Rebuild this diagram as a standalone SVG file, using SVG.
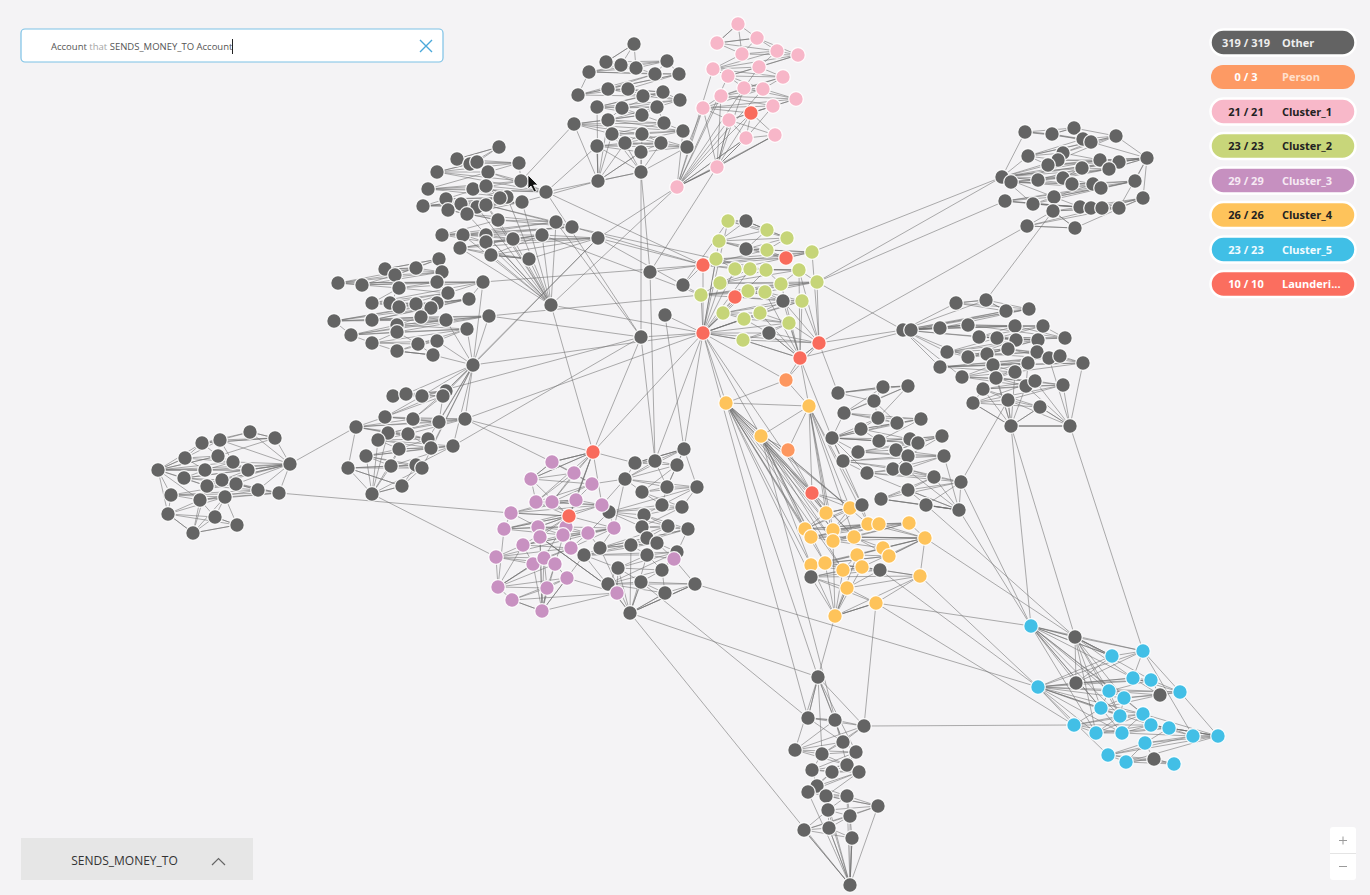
<svg xmlns="http://www.w3.org/2000/svg" width="1370" height="895" viewBox="0 0 1370 895">
<style>
.bg{fill:#f4f3f5}
.e path{fill:none;stroke:#6f6f6f;stroke-width:.72;stroke-opacity:.78}
.nodes circle{r:7.3px;stroke:#fff;stroke-width:1.3;stroke-opacity:.9}
.gy circle,circle.gy{fill:#646464}
.pk circle{fill:#f7b6c8}
.gn circle{fill:#c6d578}
.pu circle{fill:#c891c1}
.ye circle{fill:#fec35a}
.bl circle{fill:#42bfe6}
circle.rd{fill:#f96b5c}
circle.ps{fill:#fd975f}
.nodes circle.gy{fill:#646464}
.nodes circle.rd{fill:#f96b5c}
.nodes circle.ps{fill:#fd975f}
.lg text{font-family:"Open Sans","Liberation Sans",sans-serif;font-size:11px;font-weight:700}
.ui text{font-family:"Open Sans","Liberation Sans",sans-serif}
</style>
<rect class="bg" x="0" y="0" width="1370" height="895"/>
<g id="connectors" class="e">
<path id="edges-a" d="M634,44L606,62 621,65 636,68 667,61 589,72 655,74 679,74 578,95 608,89 628,89 643,96 663,92 680,100 597,107 622,108 657,107 642,115 608,120 664,123 574,124 683,131 612,134 642,134 625,143 661,143 687,147 597,146 641,152 641,172 598,181M634,44L621,65 667,61 655,74 578,95 628,89 663,92 597,107 657,107 608,120 574,124 612,134 625,143 687,147 641,152 598,181 641,172 597,146 661,143 642,134 683,131 664,123 642,115 622,108 680,100 643,96 608,89 679,74 589,72 636,68 606,62 634,44M634,44L636,68 655,74 608,89 663,92 622,108 608,120 683,131 625,143 597,146 598,181 641,152 661,143 612,134 664,123 657,107 680,100 628,89 679,74 667,61 606,62 621,65 589,72 578,95 643,96 597,107 642,115 574,124 642,134 687,147 641,172M598,181L574,124M598,181L597,146M598,181L612,134M598,181L625,143M598,181L608,120M598,181L597,107M641,172L625,143M641,172L642,134M641,172L661,143M641,172L612,134"/>
<path id="edges-1" d="M738,24L717,43 757,38 742,54 777,51 798,55 713,69 759,67 728,76 783,77 744,88 763,89 721,96 796,99 703,108 773,106 751,113 729,120 746,138 775,135 717,167 677,187M738,24L757,38 777,51 713,69 728,76 744,88 721,96 703,108 751,113 746,138 717,167 677,187 775,135 729,120 773,106 796,99 763,89 783,77 759,67 798,55 742,54 717,43 738,24M738,24L742,54 713,69 783,77 721,96 773,106 746,138 677,187 717,167 729,120 703,108 763,89 728,76 798,55 757,38 717,43 777,51 759,67 744,88 796,99 751,113 775,135M677,187L703,108M677,187L721,96M677,187L729,120M677,187L751,113M677,187L746,138M677,187L713,69M677,187L728,76M677,187L744,88M677,187L763,89M717,167L751,113M717,167L746,138M717,167L775,135M717,167L729,120M717,167L703,108M717,167L721,96M717,167L744,88"/>
<path id="edges-2" d="M728,221L746,221 767,230 787,238 719,241 746,249 767,250 786,258 812,252 703,265 716,259 735,269 750,269 766,270 799,270 720,283 781,284 817,282 701,295 748,291 765,292 735,297 783,301 802,301 723,313 760,313 744,319 789,323 703,333 769,333 743,340 819,343 800,358M728,221L767,230 719,241 767,250 812,252 716,259 750,269 799,270 781,284 701,295 765,292 783,301 723,313 744,319 703,333 743,340 800,358 819,343 769,333 789,323 760,313 802,301 735,297 748,291 817,282 720,283 766,270 735,269 703,265 786,258 746,249 787,238 746,221 728,221M728,221L787,238 767,250 703,265 750,269 720,283 701,295 735,297 723,313 789,323 743,340 800,358 769,333 744,319 802,301 765,292 817,282 799,270 735,269 812,252 746,249 767,230 746,221 719,241 786,258 716,259 766,270 781,284 748,291 783,301 760,313 703,333 819,343M703,333L703,265M703,333L716,259M703,333L719,241M703,333L735,269M703,333L720,283M703,333L701,295M703,333L735,297M703,333L723,313M703,333L744,319M703,333L743,340M703,333L748,291M703,333L760,313M703,333L728,221M703,333L750,269M703,333L766,270M800,358L789,323M800,358L802,301M800,358L783,301M800,358L781,284M800,358L769,333M800,358L760,313M800,358L765,292M800,358L799,270M819,343L817,282M819,343L802,301M819,343L799,270M819,343L812,252M819,343L789,323M819,343L783,301"/>
<path id="edges-k" d="M499,147L457,159 470,164 477,162 519,163 437,172 488,172 521,181 546,192 428,189 473,189 486,186 507,197 500,198 446,199 423,206 461,204 477,207 522,202 448,210 467,214 486,205 498,220 556,222 572,227 442,235 463,235 486,235 486,242 513,239 542,235 598,238 460,248 491,255 529,259M499,147L470,164 519,163 488,172 546,192 473,189 507,197 446,199 461,204 522,202 467,214 498,220 572,227 463,235 486,242 542,235 460,248 529,259 491,255 598,238 513,239 486,235 442,235 556,222 486,205 448,210 477,207 423,206 500,198 486,186 428,189 521,181 437,172 477,162 457,159 499,147M499,147L477,162 488,172 428,189 507,197 423,206 522,202 486,205 572,227 486,235 542,235 491,255 529,259 598,238 486,242 442,235 498,220 448,210 461,204 500,198 473,189 521,181 519,163 457,159 470,164 437,172 546,192 486,186 446,199 477,207 467,214 556,222 463,235 513,239 460,248M551,305L498,220M551,305L463,235M551,305L486,235M551,305L486,242M551,305L513,239M551,305L460,248M551,305L491,255M551,305L529,259M551,305L542,235M551,305L467,214M551,305L477,207M551,305L507,197M551,305L486,205M551,305L522,202M551,305L556,222"/>
<path id="edges-l" d="M439,259L385,269 416,268 395,275 442,272 338,283 362,285 437,282 483,282 399,288 448,293 372,303 390,303 399,307 416,304 437,303 469,299 431,308 334,321 372,320 421,317 446,320 489,316 397,325 351,335 397,332 467,329 372,343 418,344 437,341 397,351 433,355M439,259L416,268 442,272 362,285 483,282 448,293 390,303 416,304 469,299 334,321 421,317 489,316 351,335 467,329 418,344 397,351 433,355 437,341 372,343 397,332 397,325 446,320 372,320 431,308 437,303 399,307 372,303 399,288 437,282 338,283 395,275 385,269 439,259M439,259L395,275 362,285 399,288 390,303 437,303 334,321 446,320 351,335 372,343 397,351 433,355 418,344 397,332 489,316 372,320 469,299 399,307 448,293 437,282 442,272 385,269 416,268 338,283 483,282 372,303 416,304 431,308 421,317 397,325 467,329 437,341M338,283L362,285M334,321L351,335M483,282L469,299"/>
<path id="edges-m" d="M393,396L406,394 422,396 446,391 443,396 385,417 413,419 439,422 465,419 356,427 388,433 408,434 428,439 378,440 431,448 399,449 453,446 366,456 391,466 416,465 422,468 348,468 402,486 372,494M393,396L422,396 443,396 413,419 465,419 388,433 428,439 431,448 453,446 391,466 422,468 402,486 372,494 348,468 416,465 366,456 399,449 378,440 408,434 356,427 439,422 385,417 446,391 406,394 393,396M393,396L446,391 413,419 356,427 428,439 399,449 391,466 348,468 402,486 416,465 453,446 378,440 388,433 439,422 443,396 406,394 422,396 385,417 465,419 408,434 431,448 366,456 422,468 372,494M473,365L446,391M473,365L443,396M473,365L422,396M473,365L439,422M473,365L465,419M473,365L428,439M473,365L431,448M473,365L453,446M473,365L422,468M473,365L406,394M473,365L489,316M473,365L467,329M473,365L437,341M473,365L433,355M473,365L446,320M473,365L483,282M372,494L378,440M372,494L388,433M372,494L399,449M372,494L391,466M372,494L366,456M356,427L348,468M356,427L385,417"/>
<path id="edges-n" d="M250,432L275,438 202,443 220,440 218,456 185,458 233,462 158,470 205,470 248,470 290,464 184,478 207,486 222,480 236,484 258,490 279,493 171,495 200,500 225,497 168,514 215,517 237,525 193,533M250,432L202,443 218,456 233,462 205,470 290,464 207,486 236,484 279,493 200,500 168,514 237,525 193,533 215,517 225,497 171,495 258,490 222,480 184,478 248,470 158,470 185,458 220,440 275,438 250,432M250,432L220,440 233,462 248,470 207,486 258,490 200,500 215,517 237,525 225,497 279,493 222,480 290,464 158,470 218,456 275,438 202,443 185,458 205,470 184,478 236,484 171,495 168,514 193,533M158,470L202,443M158,470L185,458M158,470L205,470M158,470L184,478M158,470L207,486M158,470L171,495M158,470L200,500M158,470L218,456M158,470L168,514M290,464L250,432M290,464L275,438M290,464L233,462M290,464L248,470M290,464L236,484M290,464L258,490M290,464L279,493M290,464L220,440M290,464L222,480M193,533L168,514M193,533L200,500M193,533L225,497M193,533L207,486"/>
<path id="edges-s" d="M1025,132L1052,134 1074,128 1083,139 1091,142 1116,136 1028,156 1063,153 1058,160 1048,165 1100,160 1119,162 1147,158 1002,177 1082,168 1109,169 1038,180 1063,178 1011,182 1072,184 1093,184 1101,188 1135,181 1054,197 1005,201 1033,204 1080,207 1091,208 1102,208 1119,208 1143,198 1053,211 1027,226 1075,228M1025,132L1074,128 1091,142 1028,156 1058,160 1100,160 1147,158 1082,168 1038,180 1011,182 1093,184 1135,181 1005,201 1080,207 1102,208 1143,198 1027,226 1075,228 1053,211 1119,208 1091,208 1033,204 1054,197 1101,188 1072,184 1063,178 1109,169 1002,177 1119,162 1048,165 1063,153 1116,136 1083,139 1052,134 1025,132M1025,132L1083,139 1028,156 1048,165 1147,158 1109,169 1011,182 1101,188 1005,201 1091,208 1143,198 1075,228 1053,211 1102,208 1033,204 1135,181 1072,184 1038,180 1002,177 1100,160 1063,153 1091,142 1052,134 1074,128 1116,136 1058,160 1119,162 1082,168 1063,178 1093,184 1054,197 1080,207 1119,208 1027,226M1002,177L1028,156M1002,177L1048,165M1002,177L1038,180M1002,177L1011,182M1002,177L1054,197M1002,177L1033,204M1002,177L1058,160M1002,177L1063,178M1002,177L1025,132M1147,158L1116,136M1147,158L1119,162M1147,158L1109,169M1147,158L1135,181M1147,158L1143,198M1147,158L1100,160M1147,158L1119,208M1147,158L1091,142"/>
<path id="edges-t" d="M956,303L986,300 1006,311 1029,309 903,330 911,330 940,328 968,325 1015,326 1043,326 1065,338 979,337 997,338 1016,340 1038,340 947,352 968,357 987,354 1008,349 1037,352 1049,358 1060,356 1083,363 940,367 993,365 1015,372 1028,363 962,377 996,378 1026,386 1035,381 1063,385 983,389 973,403 1008,400 1040,407 1011,426 1070,426M956,303L1006,311 903,330 940,328 1015,326 1065,338 997,338 1038,340 968,357 1008,349 1049,358 1083,363 993,365 1028,363 996,378 1035,381 983,389 1008,400 1011,426 1070,426 1040,407 973,403 1063,385 1026,386 962,377 1015,372 940,367 1060,356 1037,352 987,354 947,352 1016,340 979,337 1043,326 968,325 911,330 1029,309 986,300 956,303M956,303L1029,309 940,328 1043,326 997,338 947,352 1008,349 1060,356 993,365 962,377 1035,381 973,403 1011,426 1070,426 1008,400 1063,385 996,378 1015,372 1083,363 1037,352 968,357 1016,340 1065,338 968,325 903,330 986,300 1006,311 911,330 1015,326 979,337 1038,340 987,354 1049,358 940,367 1028,363 1026,386 983,389 1040,407M903,330L940,328M903,330L947,352M903,330L940,367M903,330L968,325M903,330L979,337M903,330L968,357M903,330L956,303M903,330L962,377M903,330L997,338M1011,426L983,389M1011,426L973,403M1011,426L1008,400M1011,426L1040,407M1011,426L996,378M1011,426L1026,386M1011,426L993,365M1011,426L1015,372M1070,426L1040,407M1070,426L1063,385M1070,426L1035,381M1070,426L1083,363M1070,426L1026,386M1070,426L1049,358"/>
<path id="edges-h" d="M838,393L883,387 908,386 874,401 844,413 878,418 897,423 921,419 861,429 832,438 879,441 910,439 918,443 942,436 896,450 858,452 908,456 944,456 843,461 893,469 906,469 867,473 934,477 961,482 908,490 881,499 926,505 959,510M838,393L908,386 844,413 897,423 861,429 879,441 918,443 896,450 908,456 843,461 906,469 934,477 908,490 926,505 959,510 881,499 961,482 867,473 893,469 944,456 858,452 942,436 910,439 832,438 921,419 878,418 874,401 883,387 838,393M838,393L874,401 897,423 832,438 918,443 858,452 843,461 867,473 908,490 959,510 881,499 934,477 893,469 908,456 942,436 879,441 921,419 844,413 883,387 908,386 878,418 861,429 910,439 896,450 944,456 906,469 961,482 926,505M832,438L844,413M832,438L861,429M832,438L858,452M832,438L843,461M832,438L879,441M832,438L867,473M832,438L878,418M959,510L934,477M959,510L961,482M959,510L908,490M959,510L926,505M959,510L906,469M959,510L944,456"/>
<path id="edges-4" d="M812,493L826,513 850,508 862,505 805,529 833,530 868,524 879,524 909,523 811,537 833,541 854,537 925,538 883,548 889,556 857,555 811,565 825,563 843,570 862,567 880,570 811,577 920,576 847,588 876,603 835,616M812,493L850,508 805,529 868,524 909,523 833,541 925,538 889,556 811,565 843,570 880,570 920,576 876,603 835,616 847,588 811,577 862,567 825,563 857,555 883,548 854,537 811,537 879,524 833,530 862,505 826,513 812,493M812,493L862,505 868,524 811,537 925,538 857,555 843,570 811,577 876,603 835,616 920,576 862,567 811,565 883,548 833,541 879,524 805,529 826,513 850,508 833,530 909,523 854,537 889,556 825,563 880,570 847,588M726,403L812,493M726,403L826,513M726,403L805,529M726,403L833,530M726,403L811,537M726,403L833,541M726,403L811,565M726,403L825,563M726,403L850,508M726,403L854,537M726,403L811,577M726,403L843,570M726,403L868,524M761,436L812,493M761,436L826,513M761,436L805,529M761,436L833,530M761,436L811,537M761,436L833,541M761,436L811,565M761,436L825,563M761,436L843,570M761,436L850,508M761,436L854,537M809,406L812,493M809,406L826,513M809,406L850,508M809,406L833,530M809,406L833,541M809,406L868,524M809,406L854,537M809,406L862,505M835,616L811,565M835,616L811,577M835,616L825,563M835,616L843,570M835,616L847,588M835,616L862,567M835,616L833,541M835,616L857,555M925,538L909,523M925,538L889,556M925,538L883,548M925,538L879,524M925,538L868,524M925,538L920,576M925,538L862,567M925,538L854,537"/>
<path id="edges-5" d="M1031,626L1075,637 1112,656 1143,651 1076,683 1038,687 1133,678 1151,680 1180,692 1160,695 1109,691 1124,698 1101,708 1120,716 1143,714 1074,725 1096,733 1122,733 1151,725 1169,728 1193,736 1218,736 1145,743 1108,755 1126,762 1154,759 1174,764M1031,626L1112,656 1076,683 1133,678 1180,692 1109,691 1101,708 1143,714 1096,733 1151,725 1193,736 1145,743 1126,762 1174,764 1154,759 1108,755 1218,736 1169,728 1122,733 1074,725 1120,716 1124,698 1160,695 1151,680 1038,687 1143,651 1075,637 1031,626M1031,626L1143,651 1133,678 1160,695 1101,708 1074,725 1151,725 1218,736 1126,762 1154,759 1145,743 1169,728 1096,733 1120,716 1109,691 1151,680 1076,683 1075,637 1112,656 1038,687 1180,692 1124,698 1143,714 1122,733 1193,736 1108,755 1174,764M1031,626L1112,656M1031,626L1076,683M1031,626L1109,691M1031,626L1101,708M1031,626L1120,716M1031,626L1124,698M1031,626L1096,733M1031,626L1122,733M1031,626L1143,714M1031,626L1133,678M1038,687L1109,691M1038,687L1101,708M1038,687L1120,716M1038,687L1096,733M1038,687L1074,725M1038,687L1122,733M1038,687L1124,698M1038,687L1143,714M1038,687L1108,755M1038,687L1151,725M1075,637L1112,656M1075,637L1133,678M1075,637L1109,691M1075,637L1101,708M1075,637L1124,698M1075,637L1120,716M1075,637L1096,733M1075,637L1151,680M1218,736L1193,736M1218,736L1169,728M1218,736L1180,692M1218,736L1143,714M1218,736L1151,725M1143,651L1180,692M1143,651L1193,736"/>
<path id="edges-3" d="M593,452L552,462 531,479 574,473 592,484 536,502 552,502 576,500 602,505 511,513 569,516 504,529 538,527 566,527 563,535 588,533 614,528 523,545 571,548 496,557 533,564 544,558 555,564 498,587 547,588 567,578 512,600 542,611 617,593 540,537M593,452L531,479 592,484 552,502 602,505 569,516 538,527 563,535 614,528 571,548 533,564 555,564 547,588 512,600 617,593 540,537 542,611 567,578 498,587 544,558 496,557 523,545 588,533 566,527 504,529 511,513 576,500 536,502 574,473 552,462 593,452M593,452L574,473 552,502 511,513 538,527 588,533 571,548 544,558 547,588 542,611 540,537 617,593 567,578 555,564 496,557 614,528 566,527 569,516 576,500 592,484 552,462 531,479 536,502 602,505 504,529 563,535 523,545 533,564 498,587 512,600M593,452L552,462M593,452L531,479M593,452L576,500M593,452L602,505M593,452L569,516M593,452L552,502M593,452L566,527M593,452L536,502M569,516L536,502M569,516L552,502M569,516L538,527M569,516L563,535M569,516L531,479M569,516L511,513M569,516L504,529M569,516L523,545M569,516L571,548M569,516L544,558M569,516L555,564M569,516L540,537M569,516L614,528M542,611L547,588M542,611L567,578M542,611L555,564M542,611L544,558M542,611L533,564M542,611L512,600M498,587L496,557M498,587L523,545M498,587L533,564M498,587L504,529"/>
<path id="edges-r" d="M684,449L635,463 655,461 677,465 625,479 667,487 642,492 697,487 662,505 682,507 609,512 644,515 642,527 668,526 688,529 647,538 600,548 631,545 657,543 584,555 647,555 677,552 618,568 662,570 608,584 641,582 665,593 695,584 630,613M684,449L655,461 625,479 642,492 662,505 609,512 642,527 688,529 600,548 657,543 647,555 618,568 608,584 665,593 630,613 695,584 641,582 662,570 677,552 584,555 631,545 647,538 668,526 644,515 682,507 697,487 667,487 677,465 635,463 684,449M684,449L677,465 642,492 682,507 642,527 647,538 657,543 677,552 608,584 695,584 630,613 641,582 618,568 584,555 600,548 668,526 609,512 697,487 625,479 635,463 655,461 667,487 662,505 644,515 688,529 631,545 647,555 662,570 665,593M630,613L608,584M630,613L641,582M630,613L618,568M630,613L665,593M630,613L584,555M630,613L631,545M630,613L647,555M630,613L600,548M684,449L635,463M684,449L667,487M684,449L697,487M684,449L625,479M614,528L609,512M602,505L609,512M588,533L600,548M617,593L618,568M617,593L608,584M674,559L677,552M674,559L688,529M674,559L695,584M674,559L662,570M674,559L647,555M674,559L657,543M614,528L625,479M602,505L625,479M567,578L584,555M571,548L584,555M592,484L625,479M593,452L635,463M614,528L600,548M588,533L609,512"/>
<path id="edges-u" d="M818,677L808,718 835,720 864,726 843,742 795,750 822,754 856,752 847,765 812,770 832,772 859,772 817,786 808,792 826,796 847,796 878,806 828,810 850,816 804,830 829,828 852,838 850,885M818,677L835,720 843,742 822,754 847,765 832,772 817,786 826,796 878,806 850,816 829,828 850,885 852,838 804,830 828,810 847,796 808,792 859,772 812,770 856,752 795,750 864,726 808,718 818,677M818,677L864,726 822,754 812,770 817,786 847,796 850,816 852,838 850,885 804,830 878,806 808,792 832,772 856,752 843,742 808,718 835,720 795,750 847,765 859,772 826,796 828,810 829,828M818,677L843,742M818,677L822,754M818,677L856,752M818,677L795,750M850,885L804,830M850,885L829,828M850,885L828,810M850,885L850,816M850,885L808,792M850,885L826,796M850,885L847,796M850,885L878,806"/>
<path id="edges-long" d="M598,181L522,202M598,181L546,192M574,124L521,181M597,146L546,192M641,172L650,272M641,172L641,337M677,187L598,238M677,187L551,305M717,167L650,272M683,131L677,187M687,147L703,108M546,192L703,265M556,222L703,265M598,238L703,265M572,227L716,259M542,235L701,295M598,238L701,295M483,282L703,265M489,316L701,295M489,316L641,337M473,365L703,333M473,365L598,238M551,305L703,333M551,305L593,452M641,337L703,333M641,337L593,452M641,337L655,461M650,272L703,265M650,272L655,461M683,285L703,265M683,285L728,221M665,315L703,333M665,315L684,449M703,333L593,452M703,333L655,461M703,333L684,449M703,333L726,403M703,333L761,436M703,333L812,493M703,333L786,380M703,333L465,419M703,333L808,718M422,396L641,337M453,446L641,337M465,419L552,462M465,419L593,452M446,391L598,238M290,464L356,427M279,493L511,513M372,494L496,557M786,380L726,403M786,380L809,406M786,380L800,358M786,380L819,343M788,450L761,436M788,450L809,406M788,450L812,493M726,403L809,406M726,403L761,436M809,406L761,436M809,406L800,358M726,403L818,677M761,436L847,765M818,677L835,616M818,677L630,613M808,718L641,582M864,726L876,603M864,726L1074,725M695,584L1038,687M817,282L1002,177M817,282L1005,201M812,252L1002,177M819,343L1027,226M817,282L903,330M800,358L911,330M819,343L903,330M1053,211L986,300M1011,426L1031,626M1011,426L1075,637M1070,426L1143,651M961,482L1031,626M925,538L1075,637M920,576L1038,687M876,603L1031,626M959,510L1031,626M926,505L1075,637M1008,400L961,482M838,393L819,343M832,438L800,358M862,505L832,438M880,570L1038,687M876,603L1074,725M546,192L641,337M556,222L641,337M630,613L850,885"/>
</g>
<g id="nodes" class="nodes">
<g id="group-top" class="gy">
<circle id="a0" cx="634" cy="44"/><circle id="a1" cx="606" cy="62"/><circle id="a2" cx="621" cy="65"/><circle id="a3" cx="636" cy="68"/><circle id="a4" cx="667" cy="61"/><circle id="a5" cx="589" cy="72"/><circle id="a6" cx="655" cy="74"/><circle id="a7" cx="679" cy="74"/><circle id="a8" cx="578" cy="95"/><circle id="a9" cx="608" cy="89"/><circle id="a10" cx="628" cy="89"/><circle id="a11" cx="643" cy="96"/><circle id="a12" cx="663" cy="92"/><circle id="a13" cx="680" cy="100"/><circle id="a14" cx="597" cy="107"/><circle id="a15" cx="622" cy="108"/><circle id="a16" cx="657" cy="107"/><circle id="a17" cx="642" cy="115"/><circle id="a18" cx="608" cy="120"/><circle id="a19" cx="664" cy="123"/><circle id="a20" cx="574" cy="124"/><circle id="a21" cx="683" cy="131"/><circle id="a22" cx="612" cy="134"/><circle id="a23" cx="642" cy="134"/><circle id="a24" cx="625" cy="143"/><circle id="a25" cx="661" cy="143"/><circle id="a26" cx="687" cy="147"/><circle id="a27" cx="597" cy="146"/><circle id="a28" cx="641" cy="152"/><circle id="a29" cx="641" cy="172"/><circle id="a30" cx="598" cy="181"/>
</g>
<g id="cluster-1" class="pk">
<circle id="p0" cx="738" cy="24"/><circle id="p1" cx="717" cy="43"/><circle id="p2" cx="757" cy="38"/><circle id="p3" cx="742" cy="54"/><circle id="p4" cx="777" cy="51"/><circle id="p5" cx="798" cy="55"/><circle id="p6" cx="713" cy="69"/><circle id="p7" cx="759" cy="67"/><circle id="p8" cx="728" cy="76"/><circle id="p9" cx="783" cy="77"/><circle id="p10" cx="744" cy="88"/><circle id="p11" cx="763" cy="89"/><circle id="p12" cx="721" cy="96"/><circle id="p13" cx="796" cy="99"/><circle id="p14" cx="703" cy="108"/><circle id="p15" cx="773" cy="106"/><circle id="p16" class="rd" cx="751" cy="113"/><circle id="p17" cx="729" cy="120"/><circle id="p18" cx="746" cy="138"/><circle id="p19" cx="775" cy="135"/><circle id="p20" cx="717" cy="167"/><circle id="p21" cx="677" cy="187"/>
</g>
<g id="cluster-2" class="gn">
<circle id="g0" cx="728" cy="221"/><circle id="g1" class="gy" cx="746" cy="221"/><circle id="g2" cx="767" cy="230"/><circle id="g3" cx="787" cy="238"/><circle id="g4" cx="719" cy="241"/><circle id="g5" class="gy" cx="746" cy="249"/><circle id="g6" cx="767" cy="250"/><circle id="g7" class="rd" cx="786" cy="258"/><circle id="g8" cx="812" cy="252"/><circle id="g9" class="rd" cx="703" cy="265"/><circle id="g10" cx="716" cy="259"/><circle id="g11" cx="735" cy="269"/><circle id="g12" cx="750" cy="269"/><circle id="g13" cx="766" cy="270"/><circle id="g14" cx="799" cy="270"/><circle id="g15" cx="720" cy="283"/><circle id="g16" cx="781" cy="284"/><circle id="g17" cx="817" cy="282"/><circle id="g18" cx="701" cy="295"/><circle id="g19" cx="748" cy="291"/><circle id="g20" cx="765" cy="292"/><circle id="g21" class="rd" cx="735" cy="297"/><circle id="g22" class="gy" cx="783" cy="301"/><circle id="g23" cx="802" cy="301"/><circle id="g24" cx="723" cy="313"/><circle id="g25" cx="760" cy="313"/><circle id="g26" cx="744" cy="319"/><circle id="g27" cx="789" cy="323"/><circle id="g28" class="rd" cx="703" cy="333"/><circle id="g29" class="gy" cx="769" cy="333"/><circle id="g30" cx="743" cy="340"/><circle id="g31" class="rd" cx="819" cy="343"/><circle id="g32" class="rd" cx="800" cy="358"/>
</g>
<g id="singles" class="gy">
<circle id="x0" cx="650" cy="272"/><circle id="x1" cx="683" cy="285"/><circle id="x2" cx="665" cy="315"/><circle id="x3" cx="641" cy="337"/><circle id="x4" cx="551" cy="305"/><circle id="x5" cx="473" cy="365"/>
<circle id="pe0" class="ps" cx="786" cy="380"/><circle id="pe1" class="ps" cx="788" cy="450"/>
</g>
<g id="group-k" class="gy">
<circle id="k0" cx="499" cy="147"/><circle id="k1" cx="457" cy="159"/><circle id="k2" cx="470" cy="164"/><circle id="k3" cx="477" cy="162"/><circle id="k4" cx="519" cy="163"/><circle id="k5" cx="437" cy="172"/><circle id="k6" cx="488" cy="172"/><circle id="k7" cx="521" cy="181"/><circle id="k8" cx="546" cy="192"/><circle id="k9" cx="428" cy="189"/><circle id="k10" cx="473" cy="189"/><circle id="k11" cx="486" cy="186"/><circle id="k12" cx="507" cy="197"/><circle id="k13" cx="500" cy="198"/><circle id="k14" cx="446" cy="199"/><circle id="k15" cx="423" cy="206"/><circle id="k16" cx="461" cy="204"/><circle id="k17" cx="477" cy="207"/><circle id="k18" cx="522" cy="202"/><circle id="k19" cx="448" cy="210"/><circle id="k20" cx="467" cy="214"/><circle id="k21" cx="486" cy="205"/><circle id="k22" cx="498" cy="220"/><circle id="k23" cx="556" cy="222"/><circle id="k24" cx="572" cy="227"/><circle id="k25" cx="442" cy="235"/><circle id="k26" cx="463" cy="235"/><circle id="k27" cx="486" cy="235"/><circle id="k28" cx="486" cy="242"/><circle id="k29" cx="513" cy="239"/><circle id="k30" cx="542" cy="235"/><circle id="k31" cx="598" cy="238"/><circle id="k32" cx="460" cy="248"/><circle id="k33" cx="491" cy="255"/><circle id="k34" cx="529" cy="259"/>
</g>
<g id="group-l" class="gy">
<circle id="l0" cx="439" cy="259"/><circle id="l1" cx="385" cy="269"/><circle id="l2" cx="416" cy="268"/><circle id="l3" cx="395" cy="275"/><circle id="l4" cx="442" cy="272"/><circle id="l5" cx="338" cy="283"/><circle id="l6" cx="362" cy="285"/><circle id="l7" cx="437" cy="282"/><circle id="l8" cx="483" cy="282"/><circle id="l9" cx="399" cy="288"/><circle id="l10" cx="448" cy="293"/><circle id="l11" cx="372" cy="303"/><circle id="l12" cx="390" cy="303"/><circle id="l13" cx="399" cy="307"/><circle id="l14" cx="416" cy="304"/><circle id="l15" cx="437" cy="303"/><circle id="l16" cx="469" cy="299"/><circle id="l17" cx="431" cy="308"/><circle id="l18" cx="334" cy="321"/><circle id="l19" cx="372" cy="320"/><circle id="l20" cx="421" cy="317"/><circle id="l21" cx="446" cy="320"/><circle id="l22" cx="489" cy="316"/><circle id="l23" cx="397" cy="325"/><circle id="l24" cx="351" cy="335"/><circle id="l25" cx="397" cy="332"/><circle id="l26" cx="467" cy="329"/><circle id="l27" cx="372" cy="343"/><circle id="l28" cx="418" cy="344"/><circle id="l29" cx="437" cy="341"/><circle id="l30" cx="397" cy="351"/><circle id="l31" cx="433" cy="355"/>
</g>
<g id="group-m" class="gy">
<circle id="m0" cx="393" cy="396"/><circle id="m1" cx="406" cy="394"/><circle id="m2" cx="422" cy="396"/><circle id="m3" cx="446" cy="391"/><circle id="m4" cx="443" cy="396"/><circle id="m5" cx="385" cy="417"/><circle id="m6" cx="413" cy="419"/><circle id="m7" cx="439" cy="422"/><circle id="m8" cx="465" cy="419"/><circle id="m9" cx="356" cy="427"/><circle id="m10" cx="388" cy="433"/><circle id="m11" cx="408" cy="434"/><circle id="m12" cx="428" cy="439"/><circle id="m13" cx="378" cy="440"/><circle id="m14" cx="431" cy="448"/><circle id="m15" cx="399" cy="449"/><circle id="m16" cx="453" cy="446"/><circle id="m17" cx="366" cy="456"/><circle id="m18" cx="391" cy="466"/><circle id="m19" cx="416" cy="465"/><circle id="m20" cx="422" cy="468"/><circle id="m21" cx="348" cy="468"/><circle id="m22" cx="402" cy="486"/><circle id="m23" cx="372" cy="494"/>
</g>
<g id="group-n" class="gy">
<circle id="q0" cx="250" cy="432"/><circle id="q1" cx="275" cy="438"/><circle id="q2" cx="202" cy="443"/><circle id="q3" cx="220" cy="440"/><circle id="q4" cx="218" cy="456"/><circle id="q5" cx="185" cy="458"/><circle id="q6" cx="233" cy="462"/><circle id="q7" cx="158" cy="470"/><circle id="q8" cx="205" cy="470"/><circle id="q9" cx="248" cy="470"/><circle id="q10" cx="290" cy="464"/><circle id="q11" cx="184" cy="478"/><circle id="q12" cx="207" cy="486"/><circle id="q13" cx="222" cy="480"/><circle id="q14" cx="236" cy="484"/><circle id="q15" cx="258" cy="490"/><circle id="q16" cx="279" cy="493"/><circle id="q17" cx="171" cy="495"/><circle id="q18" cx="200" cy="500"/><circle id="q19" cx="225" cy="497"/><circle id="q20" cx="168" cy="514"/><circle id="q21" cx="215" cy="517"/><circle id="q22" cx="237" cy="525"/><circle id="q23" cx="193" cy="533"/>
</g>
<g id="group-s" class="gy">
<circle id="s0" cx="1025" cy="132"/><circle id="s1" cx="1052" cy="134"/><circle id="s2" cx="1074" cy="128"/><circle id="s3" cx="1083" cy="139"/><circle id="s4" cx="1091" cy="142"/><circle id="s5" cx="1116" cy="136"/><circle id="s6" cx="1028" cy="156"/><circle id="s7" cx="1063" cy="153"/><circle id="s8" cx="1058" cy="160"/><circle id="s9" cx="1048" cy="165"/><circle id="s10" cx="1100" cy="160"/><circle id="s11" cx="1119" cy="162"/><circle id="s12" cx="1147" cy="158"/><circle id="s13" cx="1002" cy="177"/><circle id="s14" cx="1082" cy="168"/><circle id="s15" cx="1109" cy="169"/><circle id="s16" cx="1038" cy="180"/><circle id="s17" cx="1063" cy="178"/><circle id="s18" cx="1011" cy="182"/><circle id="s19" cx="1072" cy="184"/><circle id="s20" cx="1093" cy="184"/><circle id="s21" cx="1101" cy="188"/><circle id="s22" cx="1135" cy="181"/><circle id="s23" cx="1054" cy="197"/><circle id="s24" cx="1005" cy="201"/><circle id="s25" cx="1033" cy="204"/><circle id="s26" cx="1080" cy="207"/><circle id="s27" cx="1091" cy="208"/><circle id="s28" cx="1102" cy="208"/><circle id="s29" cx="1119" cy="208"/><circle id="s30" cx="1143" cy="198"/><circle id="s31" cx="1053" cy="211"/><circle id="s32" cx="1027" cy="226"/><circle id="s33" cx="1075" cy="228"/>
</g>
<g id="group-t" class="gy">
<circle id="t0" cx="956" cy="303"/><circle id="t1" cx="986" cy="300"/><circle id="t2" cx="1006" cy="311"/><circle id="t3" cx="1029" cy="309"/><circle id="t4" cx="903" cy="330"/><circle id="t5" cx="911" cy="330"/><circle id="t6" cx="940" cy="328"/><circle id="t7" cx="968" cy="325"/><circle id="t8" cx="1015" cy="326"/><circle id="t9" cx="1043" cy="326"/><circle id="t10" cx="1065" cy="338"/><circle id="t11" cx="979" cy="337"/><circle id="t12" cx="997" cy="338"/><circle id="t13" cx="1016" cy="340"/><circle id="t14" cx="1038" cy="340"/><circle id="t15" cx="947" cy="352"/><circle id="t16" cx="968" cy="357"/><circle id="t17" cx="987" cy="354"/><circle id="t18" cx="1008" cy="349"/><circle id="t19" cx="1037" cy="352"/><circle id="t20" cx="1049" cy="358"/><circle id="t21" cx="1060" cy="356"/><circle id="t22" cx="1083" cy="363"/><circle id="t23" cx="940" cy="367"/><circle id="t24" cx="993" cy="365"/><circle id="t25" cx="1015" cy="372"/><circle id="t26" cx="1028" cy="363"/><circle id="t27" cx="962" cy="377"/><circle id="t28" cx="996" cy="378"/><circle id="t29" cx="1026" cy="386"/><circle id="t30" cx="1035" cy="381"/><circle id="t31" cx="1063" cy="385"/><circle id="t32" cx="983" cy="389"/><circle id="t33" cx="973" cy="403"/><circle id="t34" cx="1008" cy="400"/><circle id="t35" cx="1040" cy="407"/><circle id="t36" cx="1011" cy="426"/><circle id="t37" cx="1070" cy="426"/>
</g>
<g id="group-h" class="gy">
<circle id="h0" cx="838" cy="393"/><circle id="h1" cx="883" cy="387"/><circle id="h2" cx="908" cy="386"/><circle id="h3" cx="874" cy="401"/><circle id="h4" cx="844" cy="413"/><circle id="h5" cx="878" cy="418"/><circle id="h6" cx="897" cy="423"/><circle id="h7" cx="921" cy="419"/><circle id="h8" cx="861" cy="429"/><circle id="h9" cx="832" cy="438"/><circle id="h10" cx="879" cy="441"/><circle id="h11" cx="910" cy="439"/><circle id="h12" cx="918" cy="443"/><circle id="h13" cx="942" cy="436"/><circle id="h14" cx="896" cy="450"/><circle id="h15" cx="858" cy="452"/><circle id="h16" cx="908" cy="456"/><circle id="h17" cx="944" cy="456"/><circle id="h18" cx="843" cy="461"/><circle id="h19" cx="893" cy="469"/><circle id="h20" cx="906" cy="469"/><circle id="h21" cx="867" cy="473"/><circle id="h22" cx="934" cy="477"/><circle id="h23" cx="961" cy="482"/><circle id="h24" cx="908" cy="490"/><circle id="h25" cx="881" cy="499"/><circle id="h26" cx="926" cy="505"/><circle id="h27" cx="959" cy="510"/>
</g>
<g id="cluster-4" class="ye">
<circle id="y0" cx="726" cy="403"/><circle id="y1" cx="809" cy="406"/><circle id="y2" cx="761" cy="436"/><circle id="y3" class="rd" cx="812" cy="493"/><circle id="y4" cx="826" cy="513"/><circle id="y5" cx="850" cy="508"/><circle id="y6" class="gy" cx="862" cy="505"/><circle id="y7" cx="805" cy="529"/><circle id="y8" cx="833" cy="530"/><circle id="y9" cx="868" cy="524"/><circle id="y10" cx="879" cy="524"/><circle id="y11" cx="909" cy="523"/><circle id="y12" cx="811" cy="537"/><circle id="y13" cx="833" cy="541"/><circle id="y14" cx="854" cy="537"/><circle id="y15" cx="925" cy="538"/><circle id="y16" cx="883" cy="548"/><circle id="y17" cx="889" cy="556"/><circle id="y18" cx="857" cy="555"/><circle id="y19" cx="811" cy="565"/><circle id="y20" cx="825" cy="563"/><circle id="y21" cx="843" cy="570"/><circle id="y22" cx="862" cy="567"/><circle id="y23" class="gy" cx="880" cy="570"/><circle id="y24" class="gy" cx="811" cy="577"/><circle id="y25" cx="920" cy="576"/><circle id="y26" cx="847" cy="588"/><circle id="y27" cx="876" cy="603"/><circle id="y28" cx="835" cy="616"/>
</g>
<g id="cluster-5" class="bl">
<circle id="b0" cx="1031" cy="626"/><circle id="b1" class="gy" cx="1075" cy="637"/><circle id="b2" cx="1112" cy="656"/><circle id="b3" cx="1143" cy="651"/><circle id="b4" class="gy" cx="1076" cy="683"/><circle id="b5" cx="1038" cy="687"/><circle id="b6" cx="1133" cy="678"/><circle id="b7" cx="1151" cy="680"/><circle id="b8" cx="1180" cy="692"/><circle id="b9" class="gy" cx="1160" cy="695"/><circle id="b10" cx="1109" cy="691"/><circle id="b11" cx="1124" cy="698"/><circle id="b12" cx="1101" cy="708"/><circle id="b13" cx="1120" cy="716"/><circle id="b14" cx="1143" cy="714"/><circle id="b15" cx="1074" cy="725"/><circle id="b16" cx="1096" cy="733"/><circle id="b17" cx="1122" cy="733"/><circle id="b18" cx="1151" cy="725"/><circle id="b19" cx="1169" cy="728"/><circle id="b20" cx="1193" cy="736"/><circle id="b21" cx="1218" cy="736"/><circle id="b22" cx="1145" cy="743"/><circle id="b23" cx="1108" cy="755"/><circle id="b24" cx="1126" cy="762"/><circle id="b25" class="gy" cx="1154" cy="759"/><circle id="b26" cx="1174" cy="764"/>
</g>
<g id="group-r" class="gy">
<circle id="r0" cx="684" cy="449"/><circle id="r1" cx="635" cy="463"/><circle id="r2" cx="655" cy="461"/><circle id="r3" cx="677" cy="465"/><circle id="r4" cx="625" cy="479"/><circle id="r5" cx="667" cy="487"/><circle id="r6" cx="642" cy="492"/><circle id="r7" cx="697" cy="487"/><circle id="r8" cx="662" cy="505"/><circle id="r9" cx="682" cy="507"/><circle id="r10" cx="609" cy="512"/><circle id="r11" cx="644" cy="515"/><circle id="r12" cx="642" cy="527"/><circle id="r13" cx="668" cy="526"/><circle id="r14" cx="688" cy="529"/><circle id="r15" cx="647" cy="538"/><circle id="r16" cx="600" cy="548"/><circle id="r17" cx="631" cy="545"/><circle id="r18" cx="657" cy="543"/><circle id="r19" cx="584" cy="555"/><circle id="r20" cx="647" cy="555"/><circle id="r21" cx="677" cy="552"/><circle id="r22" cx="618" cy="568"/><circle id="r23" cx="662" cy="570"/><circle id="r24" cx="608" cy="584"/><circle id="r25" cx="641" cy="582"/><circle id="r26" cx="665" cy="593"/><circle id="r27" cx="695" cy="584"/><circle id="r28" cx="630" cy="613"/>
</g>
<g id="cluster-3" class="pu">
<circle id="c0" class="rd" cx="593" cy="452"/><circle id="c1" cx="552" cy="462"/><circle id="c2" cx="531" cy="479"/><circle id="c3" cx="574" cy="473"/><circle id="c4" cx="592" cy="484"/><circle id="c5" cx="536" cy="502"/><circle id="c6" cx="552" cy="502"/><circle id="c7" cx="576" cy="500"/><circle id="c8" cx="602" cy="505"/><circle id="c9" cx="511" cy="513"/><circle id="c11" cx="504" cy="529"/><circle id="c12" cx="538" cy="527"/><circle id="c30" cx="540" cy="537"/><circle id="c13" cx="566" cy="527"/><circle id="c14" cx="563" cy="535"/><circle id="c15" cx="588" cy="533"/><circle id="c16" cx="614" cy="528"/><circle id="c17" cx="523" cy="545"/><circle id="c18" cx="571" cy="548"/><circle id="c19" cx="496" cy="557"/><circle id="c20" cx="533" cy="564"/><circle id="c21" cx="544" cy="558"/><circle id="c22" cx="555" cy="564"/><circle id="c23" cx="498" cy="587"/><circle id="c24" cx="547" cy="588"/><circle id="c25" cx="567" cy="578"/><circle id="c26" cx="512" cy="600"/><circle id="c27" cx="542" cy="611"/><circle id="c28" cx="617" cy="593"/><circle id="c29" cx="674" cy="559"/><circle id="c10" class="rd" cx="569" cy="516"/>
</g>
<g id="group-u" class="gy">
<circle id="u0" cx="818" cy="677"/><circle id="u1" cx="808" cy="718"/><circle id="u2" cx="835" cy="720"/><circle id="u3" cx="864" cy="726"/><circle id="u4" cx="843" cy="742"/><circle id="u5" cx="795" cy="750"/><circle id="u6" cx="822" cy="754"/><circle id="u7" cx="856" cy="752"/><circle id="u8" cx="847" cy="765"/><circle id="u9" cx="812" cy="770"/><circle id="u10" cx="832" cy="772"/><circle id="u11" cx="859" cy="772"/><circle id="u12" cx="817" cy="786"/><circle id="u13" cx="808" cy="792"/><circle id="u14" cx="826" cy="796"/><circle id="u15" cx="847" cy="796"/><circle id="u16" cx="878" cy="806"/><circle id="u17" cx="828" cy="810"/><circle id="u18" cx="850" cy="816"/><circle id="u19" cx="804" cy="830"/><circle id="u20" cx="829" cy="828"/><circle id="u21" cx="852" cy="838"/><circle id="u22" cx="850" cy="885"/>
</g>
</g>
<path id="cursor" d="M528,175L528,189 531,186 534,192 536.5,191 533.5,185 538,185Z" fill="#111" stroke="#fff" stroke-width=".8"/>
<g id="search" class="ui">
<rect x="21" y="29" width="422" height="33" rx="4" fill="#fff" stroke="#7cc2e6" stroke-width="1.2"/>
<text x="51" y="49.5" font-size="9.5" fill="#555">Account <tspan fill="#a5a5a5">that</tspan> SENDS_MONEY_TO Account</text>
<line x1="232.5" y1="39" x2="232.5" y2="54" stroke="#222" stroke-width="1"/>
<path d="M420,40L432,52M432,40L420,52" stroke="#4aa8da" stroke-width="1.4" fill="none"/>
</g>
<g id="legend" class="lg">
<g id="lg-other"><rect x="1210.5" y="29.5" width="145" height="26" rx="13" fill="#636363" stroke="#fff" stroke-width="2.5"/><text x="1246" y="46.5" text-anchor="middle" fill="#eee">319 / 319</text><text x="1282" y="46.5" fill="#eee">Other</text></g>
<g id="lg-person"><rect x="1211" y="65" width="144" height="24" rx="12" fill="#fd9a64"/><text x="1246" y="81" text-anchor="middle" fill="#fff">0 / 3</text><text x="1282" y="81" fill="#ffe0cc" font-weight="400">Person</text></g>
<g id="lg-c1"><rect x="1210.5" y="98.5" width="145" height="26" rx="13" fill="#f8b8c9" stroke="#fff" stroke-width="2.5"/><text x="1246" y="115.5" text-anchor="middle" fill="#222">21 / 21</text><text x="1282" y="115.5" fill="#222">Cluster_1</text></g>
<g id="lg-c2"><rect x="1210.5" y="133" width="145" height="26" rx="13" fill="#c8d67a" stroke="#fff" stroke-width="2.5"/><text x="1246" y="150" text-anchor="middle" fill="#222">23 / 23</text><text x="1282" y="150" fill="#222">Cluster_2</text></g>
<g id="lg-c3"><rect x="1210.5" y="167.5" width="145" height="26" rx="13" fill="#c690c0" stroke="#fff" stroke-width="2.5"/><text x="1246" y="184.5" text-anchor="middle" fill="#f6eaf4">29 / 29</text><text x="1282" y="184.5" fill="#f6eaf4">Cluster_3</text></g>
<g id="lg-c4"><rect x="1210.5" y="202" width="145" height="26" rx="13" fill="#fec35b" stroke="#fff" stroke-width="2.5"/><text x="1246" y="219" text-anchor="middle" fill="#222">26 / 26</text><text x="1282" y="219" fill="#222">Cluster_4</text></g>
<g id="lg-c5"><rect x="1210.5" y="236.5" width="145" height="26" rx="13" fill="#40bfe6" stroke="#fff" stroke-width="2.5"/><text x="1246" y="253.5" text-anchor="middle" fill="#f2fbff">23 / 23</text><text x="1282" y="253.5" fill="#f2fbff">Cluster_5</text></g>
<g id="lg-laund"><rect x="1210.5" y="271" width="145" height="26" rx="13" fill="#fb6e5f" stroke="#fff" stroke-width="2.5"/><text x="1246" y="288" text-anchor="middle" fill="#fff">10 / 10</text><text x="1282" y="288" fill="#fff">Launderi...</text></g>
</g>
<g id="rel-panel" class="ui">
<rect x="21" y="838" width="232" height="42" fill="#e6e6e6"/>
<text x="124.5" y="865" text-anchor="middle" font-size="12" fill="#333">SENDS_MONEY_TO</text>
<path d="M212,865L218.5,858.5 225,865" fill="none" stroke="#666" stroke-width="1.2"/>
</g>
<g id="zoom" class="ui">
<rect x="1330" y="827" width="26" height="53" rx="3" fill="#fff"/>
<line x1="1330" y1="853.5" x2="1356" y2="853.5" stroke="#e4e4e4"/>
<path d="M1339,840.5H1347M1343,836.5V844.5M1339,866.5H1347" stroke="#9a9a9a" stroke-width="1"/>
</g>
</svg>
